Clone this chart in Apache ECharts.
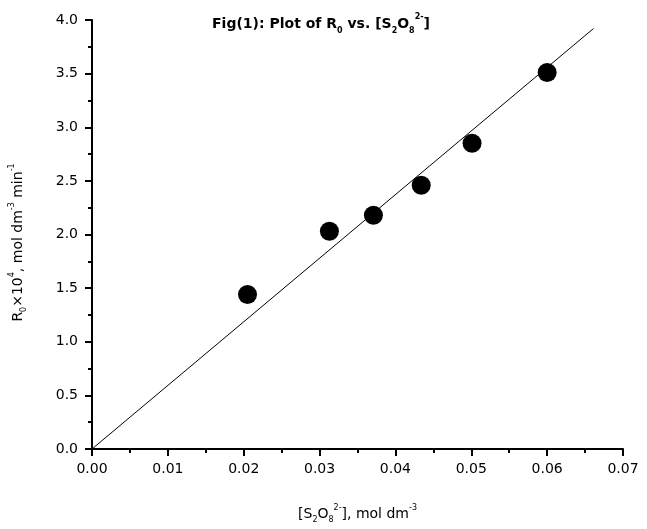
<!DOCTYPE html>
<html>
<head>
<meta charset="utf-8">
<script src="https://cdn.jsdelivr.net/npm/echarts@6/dist/echarts.min.js"></script>
<style>
  html, body { margin: 0; padding: 0; background: #fff; }
  #main { width: 647px; height: 529px; }
</style>
</head>
<body>
<div id="main"></div>
<script>
// measured points: [S2O8 2-] in mol dm-3, R0 x 10^4
const conc = [0.0205, 0.0313, 0.0371, 0.0434, 0.0501, 0.0600];
const rate = [1.44, 2.03, 2.18, 2.46, 2.85, 3.51];
// fitted line through origin
const fitX = [0, 0.0661];
const fitY = [0, 3.92];

const font = 'DejaVu Sans, Arial, sans-serif';

const myChart = echarts.init(document.getElementById('main'));

const richTitle = {
    n: { fontSize: 14, fontWeight: 'bold', fontFamily: font, color: '#000', lineHeight: 22 },
    sub: { fontSize: 8, fontWeight: 'bold', fontFamily: font, color: '#000', verticalAlign: 'bottom', lineHeight: 22 },
    sup: { fontSize: 8, fontWeight: 'bold', fontFamily: font, color: '#000', verticalAlign: 'top', lineHeight: 22 }
};
const richAxis = {
    n: { fontSize: 14, fontFamily: font, color: '#000', lineHeight: 20 },
    sub: { fontSize: 8, fontFamily: font, color: '#000', verticalAlign: 'bottom', lineHeight: 20 },
    sup: { fontSize: 8, fontFamily: font, color: '#000', verticalAlign: 'top', lineHeight: 20 }
};

const option = {
    backgroundColor: '#fff',
    animation: false,
    title: {
        text: '{n|Fig(1): Plot of R}{sub|0}{n| vs. [S}{sub|2}{n|O}{sub|8}{sup|2-}{n|]}',
        left: 316,
        top: 8,
        textAlign: 'center',
        textStyle: { rich: richTitle }
    },
    grid: {
        left: 91,
        right: 24,
        top: 20,
        bottom: 76
    },
    xAxis: {
        type: 'value',
        min: 0,
        max: 0.07,
        interval: 0.01,
        name: '{n|[S}{sub|2}{n|O}{sub|8}{sup|2-}{n|], mol dm}{sup|-3}',
        nameLocation: 'middle',
        nameGap: 55,
        nameTextStyle: { rich: richAxis },
        axisLine: { onZero: false, lineStyle: { color: '#000', width: 2 } },
        axisTick: { inside: false, length: 7, lineStyle: { color: '#000', width: 2 } },
        minorTick: { show: true, splitNumber: 2, length: 4, lineStyle: { color: '#000', width: 2 } },
        axisLabel: {
            color: '#000',
            fontFamily: font,
            fontSize: 14,
            margin: 13,
            formatter: v => v.toFixed(2)
        },
        splitLine: { show: false }
    },
    yAxis: {
        type: 'value',
        min: 0,
        max: 4,
        interval: 0.5,
        name: '{n|R}{sub|0}{n|×10}{sup|4}{n|, mol dm}{sup|-3}{n| min}{sup|-1}',
        nameLocation: 'middle',
        nameGap: 64,
        nameTextStyle: { rich: richAxis, padding: [0, 16, 0, 0] },
        axisLine: { onZero: false, lineStyle: { color: '#000', width: 2 } },
        axisTick: { inside: false, length: 7, lineStyle: { color: '#000', width: 2 } },
        minorTick: { show: true, splitNumber: 2, length: 4, lineStyle: { color: '#000', width: 2 } },
        axisLabel: {
            color: '#000',
            fontFamily: font,
            fontSize: 14,
            margin: 14,
            formatter: v => v.toFixed(1)
        },
        splitLine: { show: false }
    },
    series: [
        {
            type: 'line',
            data: fitX.map((x, i) => [x, fitY[i]]),
            showSymbol: false,
            lineStyle: { color: '#000', width: 1 },
            z: 1
        },
        {
            type: 'scatter',
            data: conc.map((x, i) => [x, rate[i]]),
            symbol: 'circle',
            symbolSize: 19,
            itemStyle: { color: '#000', opacity: 1 },
            z: 2
        }
    ]
};

myChart.setOption(option);
</script>
</body>
</html>
